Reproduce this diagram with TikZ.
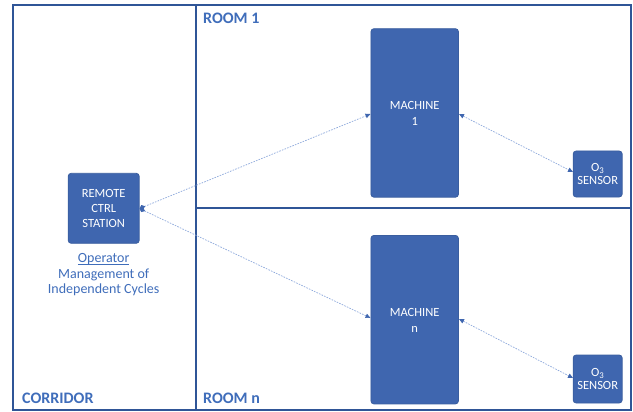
\documentclass[tikz,border=0pt]{standalone}
\usepackage{fontspec}
\setmainfont{Carlito}
\usetikzlibrary{arrows.meta}
\definecolor{boxfill}{HTML}{3F66AF}
\definecolor{boxedge}{HTML}{3A5E9F}
\definecolor{frameblue}{HTML}{2F5597}
\definecolor{labelblue}{HTML}{3F6DBA}
\definecolor{linkblue}{HTML}{8FAADC}
\newcommand\opul[1]{\setbox0\hbox{#1}\rlap{\rule[-1.8pt]{\wd0}{0.6pt}}#1}
\tikzset{
  blockbox/.style={draw=boxedge, line width=0.8pt, fill=boxfill, rounded corners=3pt, text=white, font=\fontsize{12.5}{15}\selectfont, align=center, inner sep=0pt},
  framelinestyle/.style={draw=frameblue, line width=1.6pt},
  roomlabel/.style={text=labelblue, font=\fontsize{16}{19}\selectfont\bfseries, anchor=base west, inner sep=0pt},
  linkline/.style={draw=linkblue, line width=0.7pt, dash pattern=on 1.6pt off 1.2pt},
  tri/.tip={Triangle[length=5pt,width=4.5pt,color=boxfill]},
  dia/.tip={Diamond[length=6pt,width=5pt,color=boxfill]}
}
\begin{document}
\begin{tikzpicture}[x=1pt,y=-1pt]
\useasboundingbox (0,0) rectangle (633,412);
% frame
\draw[framelinestyle] (13,5) rectangle (631,410);
\draw[framelinestyle] (196,5) -- (196,410);
\draw[draw=frameblue, line width=1.2pt] (196,208) -- (631,208);
% labels
\node[roomlabel] (r1) at (203,24) {ROOM 1};
\node[roomlabel] (rn) at (203,403) {ROOM n};
\node[roomlabel] (cor) at (22,403) {CORRIDOR};
% boxes
\node[blockbox, minimum width=71pt, minimum height=70pt] (rcs) at (103.7,208.3) {REMOTE\\CTRL\\STATION};
\node[blockbox, minimum width=87.5pt, minimum height=168.5pt, anchor=north] (m1) at (414.7,28.3) {};
\node[text=white, font=\fontsize{12.5}{16}\selectfont, align=center] (m1t) at (414.7,113.5) {MACHINE\\1};
\node[blockbox, minimum width=87.5pt, minimum height=168.5pt, anchor=north] (mn) at (414.7,235) {};
\node[text=white, font=\fontsize{12.5}{16}\selectfont, align=center] (mnt) at (414.7,320.5) {MACHINE\\n};
\node[blockbox, minimum width=49pt, minimum height=46pt] (s1) at (597.7,174) {O\textsubscript{3}\\[-2pt]SENSOR};
\node[blockbox, minimum width=49pt, minimum height=48pt] (sn) at (597.7,379) {O\textsubscript{3}\\[-2pt]SENSOR};
% operator text
\node[text=labelblue, font=\fontsize{14}{15.4}\selectfont, align=center, anchor=north, inner sep=0pt] (op) at (103.7,253.5) {\opul{Operator}\\Management of\\Independent Cycles};
% links
\coordinate (rp) at (139.5,208.5);
\coordinate (m1l) at (370.5,114);
\coordinate (mnl) at (370.5,318);
\coordinate (m1r) at (459,114);
\coordinate (mnr) at (459,319);
\coordinate (s1l) at (573,172);
\coordinate (snl) at (573,378);
\draw[linkline, {dia}-{tri}] (rp) -- (m1l);
\draw[linkline, {dia}-{tri}] (rp) -- (mnl);
\draw[linkline, {tri}-{tri}] (m1r) -- (s1l);
\draw[linkline, {tri}-{tri}] (mnr) -- (snl);
\end{tikzpicture}
\end{document}
